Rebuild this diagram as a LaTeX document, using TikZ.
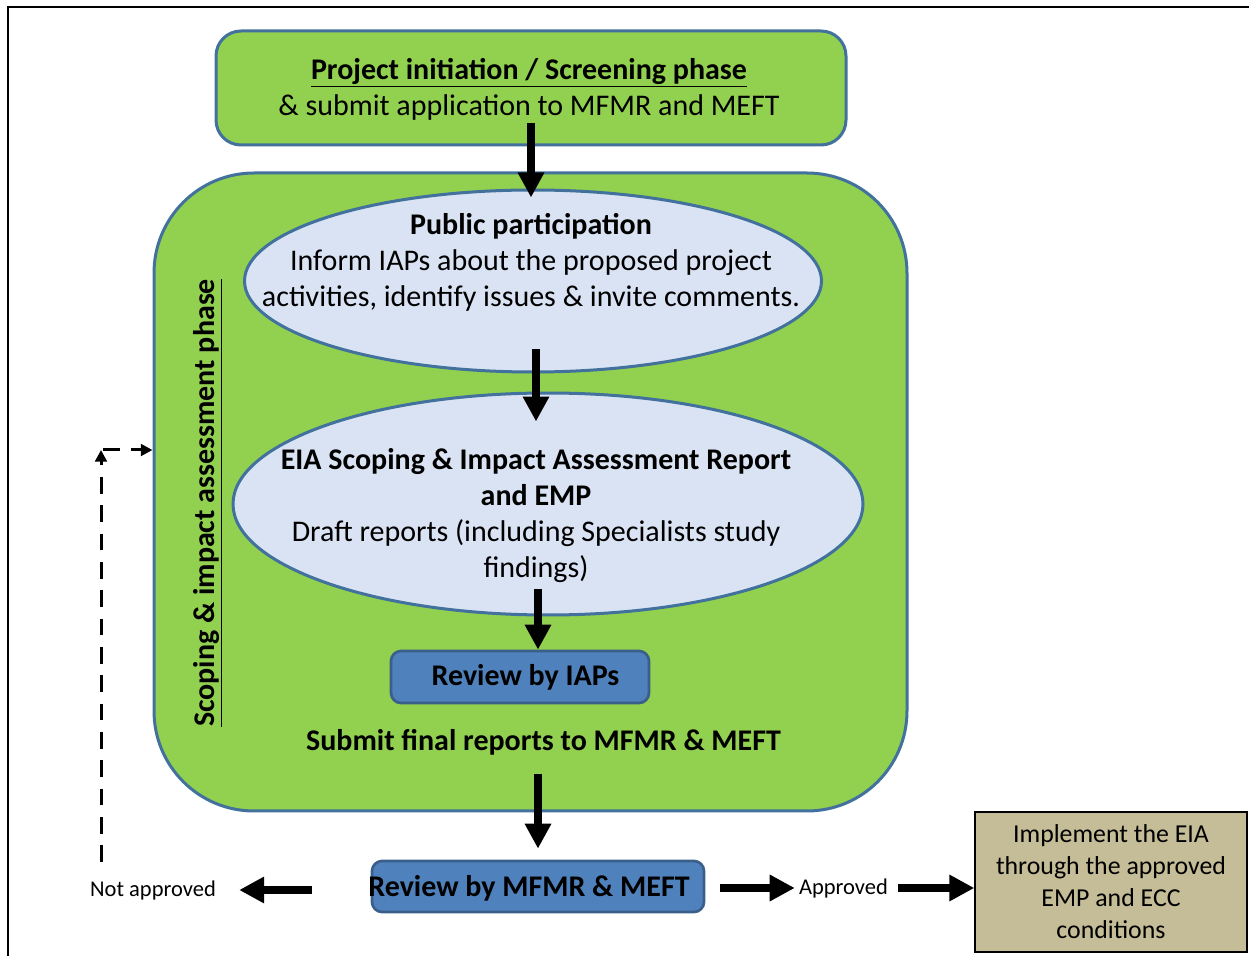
\documentclass[tikz,border=0pt]{standalone}
\usepackage{fontspec}
\setmainfont{Carlito}
\usetikzlibrary{arrows.meta,calc,positioning,shapes.geometric}
\definecolor{EiaGreen}{HTML}{92D050}
\definecolor{EiaEdge}{HTML}{41719C}
\definecolor{EiaPale}{HTML}{DAE3F3}
\definecolor{EiaBlue}{HTML}{4F81BD}
\definecolor{EiaBlueEdge}{HTML}{3A5F8B}
\definecolor{EiaTan}{HTML}{C4BD97}
\newcommand{\bigtxt}{\fontsize{18}{21.6}\selectfont}
\newcommand{\smalltxt}{\fontsize{13.5}{15}\selectfont}
\newcommand{\midtxt}{\fontsize{15.5}{19.2}\selectfont}

\tikzset{
  phasebox/.style={draw=EiaEdge,fill=EiaGreen,line width=1.8pt,rounded corners=15pt},
  bubble/.style={ellipse,draw=EiaEdge,fill=EiaPale,line width=1.8pt,inner sep=0pt},
  reviewbox/.style={draw=EiaBlueEdge,fill=EiaBlue,line width=1.6pt,rounded corners=6pt,inner sep=0pt},
  fatarrow/.style={line width=4.8pt,-{Triangle[length=15pt,width=15pt]}},
  dasharrow/.style={line width=1.8pt,dash pattern=on 10pt off 7pt,-{Triangle[length=7pt,width=7pt]}},
}

\begin{document}
\begin{tikzpicture}[x=0.6pt,y=-0.6pt]
  \useasboundingbox (0,0) rectangle (1249,956);
  \draw[line width=1.2pt] (8,956) -- (8,7) -- (1249,7);

  \node[phasebox,minimum width=378pt,minimum height=68.4pt] (init) at (531,88) {};
  \node[font=\bigtxt,align=center] (initTxt) at (529,89)
    {\textbf{\underline{Project initiation / Screening phase}}\\\& submit application to MFMR and MEFT};

  \node[phasebox,rounded corners=60pt,minimum width=451.8pt,minimum height=382.8pt] (scope) at (530.5,492) {};
  \node[font=\bigtxt\bfseries,rotate=90] (scopeTxt) at (208,503) {\underline{Scoping \& impact assessment phase}};

  \node[bubble,minimum width=346.2pt,minimum height=109.2pt] (pp) at (533,281) {};
  \node[font=\bigtxt,align=center] (ppTxt) at (531,262)
    {\textbf{Public participation}\\Inform IAPs about the proposed project\\activities, identify issues \& invite comments.};

  \node[bubble,minimum width=378pt,minimum height=133.2pt] (ea) at (548,504) {};
  \node[font=\bigtxt,align=center] (eaTxt) at (536,516)
    {\textbf{EIA Scoping \& Impact Assessment Report}\\\textbf{and EMP}\\Draft reports (including Specialists study\\findings)};

  \node[reviewbox,minimum width=154.8pt,minimum height=31.2pt] (iaps) at (520,677) {};
  \node[font=\bigtxt\bfseries] (iapsTxt) at (525.5,677) {Review by IAPs};

  \node[font=\bigtxt\bfseries] (submit) at (543.5,742) {Submit final reports to MFMR \& MEFT};

  \node[reviewbox,minimum width=199.2pt,minimum height=30.6pt] (mefts) at (538,886.5) {};
  \node[font=\bigtxt\bfseries] (meftsTxt) at (529,888) {Review by MFMR \& MEFT};

  \node[draw,fill=EiaTan,line width=0.8pt,minimum width=163.2pt,minimum height=84pt] (impl) at (1111,882) {};
  \node[font=\midtxt,align=center] (implTxt) at (1111,882)
    {Implement the EIA\\through the approved\\EMP and ECC\\conditions};

  \node[font=\smalltxt,inner sep=0pt] (notok) at (153,890) {Not approved};
  \node[font=\smalltxt,inner sep=0pt] (okTxt) at (843.5,888) {Approved};

  \draw[fatarrow] ($(init.south)+(0,-23)$) -- ($(pp.north)+(-2,9)$);
  \draw[fatarrow] ($(pp.south)+(3,-24)$) -- ($(ea.north)+(-12,30)$);
  \draw[fatarrow] ($(ea.south)+(-10,-27)$) -- ($(iaps.north)+(18,0)$);
  \draw[fatarrow] ($(scope.south)+(7.5,-38)$) -- ($(mefts.north)+(0,-11)$);
  \draw[fatarrow] ($(mefts.west)+(-59,3.5)$) -- ($(notok.east)+(23,0)$);
  \draw[fatarrow] ($(okTxt -| mefts.east)+(15,0)$) -- ($(okTxt.west)+(-4,0)$);
  \draw[fatarrow] ($(okTxt.east)+(10,0)$) -- (okTxt -| impl.west);

  \coordinate (loopStart) at (101,862);
  \coordinate (loopBend) at (101,450);
  \draw[dasharrow] (loopStart) -- (loopBend);
  \draw[dasharrow] ([xshift=1.2pt]loopBend) -- (loopBend -| scope.west);
\end{tikzpicture}
\end{document}
